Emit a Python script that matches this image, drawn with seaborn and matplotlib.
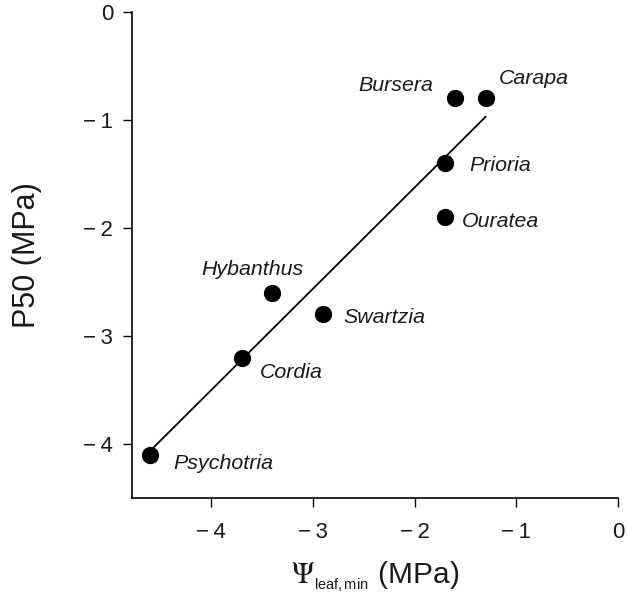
import matplotlib
matplotlib.use("Agg")
import matplotlib.pyplot as plt
import seaborn as sns
import pandas as pd

# ---- data ----
species = ["Psychotria", "Cordia", "Hybanthus", "Swartzia",
           "Ouratea", "Prioria", "Bursera", "Carapa"]
psi_leaf_min = [-4.6, -3.7, -3.4, -2.9, -1.7, -1.7, -1.6, -1.3]
p50 = [-4.1, -3.2, -2.6, -2.8, -1.9, -1.4, -0.8, -0.8]
x_ticks = [-4, -3, -2, -1, 0]
y_ticks = [-4, -3, -2, -1, 0]

df = pd.DataFrame({"species": species, "psi": psi_leaf_min, "p50": p50})

# label placement (offset in pixels from point, horizontal alignment)
label_style = {
    "Psychotria": (23, -9, "left"),
    "Cordia": (18, -15, "left"),
    "Hybanthus": (-20, 23, "center"),
    "Swartzia": (20, -3, "left"),
    "Ouratea": (17, -4, "left"),
    "Prioria": (24, -2, "left"),
    "Bursera": (-22, 13, "right"),
    "Carapa": (13, 20, "left"),
}

sns.set_style("ticks")
plt.rcParams["font.family"] = ["Liberation Sans", "DejaVu Sans"]
plt.rcParams["mathtext.fontset"] = "custom"
plt.rcParams["mathtext.rm"] = "STIXGeneral"
plt.rcParams["mathtext.it"] = "STIXGeneral:italic"
plt.rcParams["mathtext.sf"] = "Liberation Sans"

TXT = "#1a1a1a"

fig = plt.figure(figsize=(6.27, 5.97), dpi=100)
ax = fig.add_axes([0.2105, 0.166, 0.775, 0.814])

sns.regplot(data=df, x="psi", y="p50", ax=ax, ci=None,
            scatter_kws=dict(s=155, color="black", linewidths=0, alpha=1),
            line_kws=dict(color="black", lw=1.3))

for _, r in df.iterrows():
    dx, dy, ha = label_style[r["species"]]
    ax.annotate(r["species"], (r["psi"], r["p50"]), xytext=(dx, dy),
                textcoords="offset pixels", ha=ha, va="center",
                fontsize=15.4, fontstyle="italic", color=TXT)


def fmt(v):
    return "0" if v == 0 else "\u2212\u2009" + str(abs(int(v)))


ax.set_xlim(-4.78, 0)
ax.set_ylim(-4.5, 0)
ax.set_xticks(x_ticks)
ax.set_xticklabels([fmt(v) for v in x_ticks])
ax.set_yticks(y_ticks)
ax.set_yticklabels([fmt(v) for v in y_ticks])
ax.tick_params(axis="both", labelsize=16, length=6.5, width=1.0, direction="out",
               color="black", labelcolor=TXT)
ax.tick_params(axis="x", pad=10.5)
ax.tick_params(axis="y", pad=7)
for s in ["left", "bottom"]:
    ax.spines[s].set_linewidth(1.2)
    ax.spines[s].set_color("black")
sns.despine(ax=ax)

ax.set_xlabel(r"$\Psi_{_{\mathsf{leaf,min}}}$ (MPa)", fontsize=21.5, color=TXT, labelpad=12)
ax.set_ylabel("P50 (MPa)", fontsize=22, color=TXT, labelpad=30)

fig.savefig("out.png", dpi=100)
